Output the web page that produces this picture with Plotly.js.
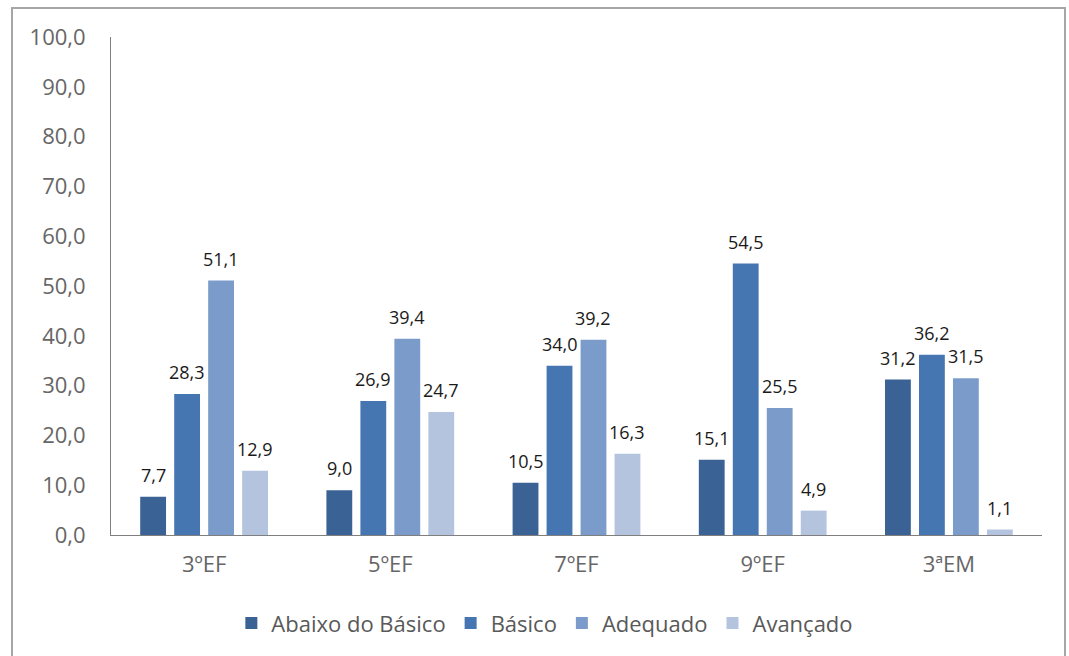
<!DOCTYPE html>
<html><head><meta charset="utf-8">
<script src="https://cdn.plot.ly/plotly-3.0.1.min.js"></script>
<style>body{margin:0;background:#fff}#c{width:1069px;height:656px}#b{position:absolute;left:11px;top:7px;width:1051px;height:660px;border:2px solid #a6a6a6;pointer-events:none}</style>
</head><body><div id="c"></div><div id="b"></div>
<script>
const categories = ['3ºEF','5ºEF','7ºEF','9ºEF','3ªEM'];
const abaixo = [7.7, 9.0, 10.5, 15.1, 31.2];
const basico = [28.3, 26.9, 34.0, 54.5, 36.2];
const adequado = [51.1, 39.4, 39.2, 25.5, 31.5];
const avancado = [12.9, 24.7, 16.3, 4.9, 1.1];
const names = ['Abaixo do Básico','Básico','Adequado','Avançado'];
const colors = ['#3b6294','#4576b2','#7b9ccb','#b4c4df'];
const series = [abaixo, basico, adequado, avancado];
const font = 'Open Sans, Noto Sans, sans-serif';
const bargap = 0.27, bargroupgap = 0.24;
const data = series.map((s,i)=>({
  type:'bar', x:categories, y:s, name:names[i],
  marker:{color:colors[i]}
}));
const plotW = 1069 - 111 - 27;
const slot = plotW / categories.length * (1 - bargap) / series.length;
const annotations = [];
series.forEach((s,i)=>{
  s.forEach((v,j)=>{
    annotations.push({x:categories[j], y:v, xref:'x', yref:'y',
      text:v.toFixed(1).replace('.', ','), showarrow:false,
      xanchor:'center', yanchor:'bottom', yshift:8, xshift:(i-1.5)*slot,
      font:{size:18, color:'#1a1a1a', family:font}});
  });
});
const layout = {
  width:1069, height:656,
  margin:{l:111, r:27, t:37, b:121},
  separators:',.',
  bargap:bargap, bargroupgap:bargroupgap,
  showlegend:true,
  annotations:annotations,
  legend:{orientation:'h', x:0.466, xanchor:'center', y:-0.135, yanchor:'top',
    font:{size:22, color:'#595959', family:font}, itemwidth:30, traceorder:'normal'},
  xaxis:{showline:true, linecolor:'#7f7f7f', linewidth:1, ticks:'', tickfont:{size:22,color:'#666666',family:font}, ticklabelstandoff:10},
  yaxis:{range:[0,100], dtick:10, tickformat:'.1f', showgrid:false, zeroline:false,
    showline:true, linecolor:'#7f7f7f', linewidth:1, ticks:'', ticklabelstandoff:20,
    tickfont:{size:22,color:'#666666',family:font}},
  plot_bgcolor:'#fff', paper_bgcolor:'#fff'
};
Plotly.newPlot('c', data, layout, {displayModeBar:false});
</script></body></html>
